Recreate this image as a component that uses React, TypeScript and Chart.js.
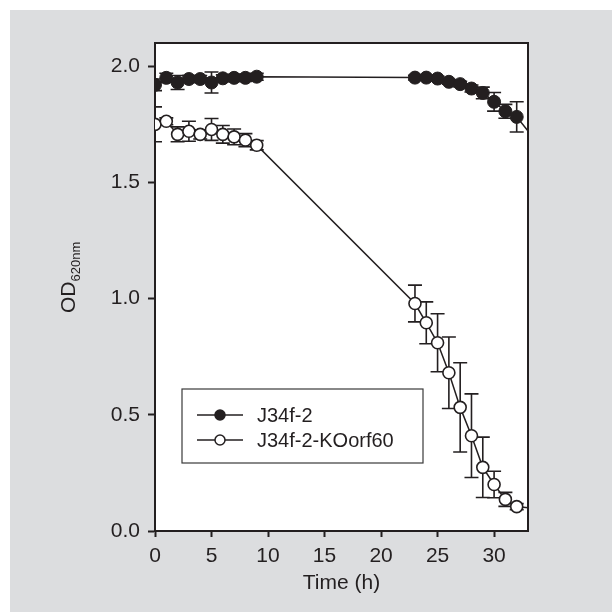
import React, { useEffect, useRef } from "react";
import { Chart, registerables } from "chart.js";

Chart.register(...registerables);

// ---- data ----
const hours = [0, 1, 2, 3, 4, 5, 6, 7, 8, 9, 23, 24, 25, 26, 27, 28, 29, 30, 31, 32, 34];
const odWild = [1.92, 1.95, 1.93, 1.945, 1.945, 1.93, 1.948, 1.95, 1.95, 1.955, 1.951, 1.951, 1.947, 1.933, 1.923, 1.904, 1.885, 1.847, 1.806, 1.782, 1.66];
const errWild = [0.025, 0.02, 0.03, 0.015, 0.015, 0.045, 0.015, 0.015, 0.015, 0.015, 0.01, 0.01, 0.01, 0.01, 0.012, 0.015, 0.025, 0.04, 0.03, 0.065, 0];
const odKO = [1.75, 1.763, 1.707, 1.72, 1.707, 1.728, 1.707, 1.696, 1.682, 1.66, 0.979, 0.896, 0.81, 0.681, 0.532, 0.41, 0.274, 0.2, 0.136, 0.105, 0.095];
const errKO = [0.075, 0.015, 0.032, 0.043, 0.02, 0.047, 0.038, 0.034, 0.028, 0.02, 0.079, 0.09, 0.125, 0.154, 0.192, 0.18, 0.13, 0.057, 0.03, 0.013, 0];
const seriesLabels = ["J34f-2", "J34f-2-KOorf60"];
const xTicks = [0, 5, 10, 15, 20, 25, 30];
const yTicks = [0, 0.5, 1.0, 1.5, 2.0];
const xTitle = "Time (h)";
const yTitleMain = "OD";
const yTitleSub = "620nm";

const INK = "#231f20";
const GRAY = "rgb(220,221,223)";
const FAMILY = "'Liberation Sans', Arial, Helvetica, sans-serif";

const backgroundPlugin = {
  id: "bg",
  beforeDraw(chart: any) {
    const { ctx, width, height, chartArea } = chart;
    ctx.save();
    ctx.fillStyle = "#ffffff";
    ctx.fillRect(0, 0, width, height);
    ctx.fillStyle = GRAY;
    ctx.fillRect(10, 10, width - 14, height - 10);
    ctx.fillStyle = "#ffffff";
    ctx.fillRect(chartArea.left, chartArea.top, chartArea.right - chartArea.left, chartArea.bottom - chartArea.top);
    ctx.restore();
  },
};

const errorBarPlugin = {
  id: "errbars",
  beforeDatasetsDraw(chart: any) {
    const { ctx, chartArea } = chart;
    const yScale = chart.scales.y;
    ctx.save();
    ctx.beginPath();
    ctx.rect(chartArea.left, chartArea.top, chartArea.right - chartArea.left, chartArea.bottom - chartArea.top);
    ctx.clip();
    ctx.strokeStyle = INK;
    ctx.lineWidth = 1.6;
    chart.data.datasets.forEach((ds: any, di: number) => {
      const meta = chart.getDatasetMeta(di);
      meta.data.forEach((el: any, i: number) => {
        const e = ds.errors[i];
        if (!e) return;
        const v = ds.data[i].y;
        const yTop = yScale.getPixelForValue(v + e);
        const yBot = yScale.getPixelForValue(v - e);
        const cap = 7;
        ctx.beginPath();
        ctx.moveTo(el.x, yTop);
        ctx.lineTo(el.x, yBot);
        ctx.moveTo(el.x - cap, yTop);
        ctx.lineTo(el.x + cap, yTop);
        ctx.moveTo(el.x - cap, yBot);
        ctx.lineTo(el.x + cap, yBot);
        ctx.stroke();
      });
    });
    ctx.restore();
  },
};

const framePlugin = {
  id: "frame",
  afterDraw(chart: any) {
    const { ctx, chartArea } = chart;
    ctx.save();
    ctx.strokeStyle = INK;
    ctx.lineWidth = 2;
    ctx.beginPath();
    ctx.moveTo(chartArea.left, chartArea.top);
    ctx.lineTo(chartArea.right, chartArea.top);
    ctx.lineTo(chartArea.right, chartArea.bottom);
    ctx.stroke();

    // legend box
    const bx = chartArea.left + 27;
    const by = chartArea.top + 346;
    const bw = 241;
    const bh = 74;
    ctx.lineWidth = 1.2;
    ctx.strokeStyle = "#3a3a3a";
    ctx.strokeRect(bx, by, bw, bh);
    chart.data.datasets.forEach((ds: any, i: number) => {
      const cy = by + 26 + i * 25;
      ctx.strokeStyle = INK;
      ctx.lineWidth = 1.5;
      ctx.beginPath();
      ctx.moveTo(bx + 15, cy);
      ctx.lineTo(bx + 61, cy);
      ctx.stroke();
      ctx.beginPath();
      ctx.arc(bx + 38, cy, 5, 0, Math.PI * 2);
      ctx.fillStyle = ds.pointBackgroundColor;
      ctx.fill();
      ctx.stroke();
      ctx.fillStyle = INK;
      ctx.font = `20px ${FAMILY}`;
      ctx.textBaseline = "middle";
      ctx.textAlign = "left";
      ctx.fillText(ds.label, bx + 75, cy + 1);
    });

    // y axis title with subscript
    ctx.save();
    ctx.translate(chartArea.left - 80, chartArea.top + 270);
    ctx.rotate(-Math.PI / 2);
    ctx.fillStyle = INK;
    ctx.textBaseline = "alphabetic";
    ctx.textAlign = "left";
    ctx.font = `21px ${FAMILY}`;
    ctx.fillText(yTitleMain, 0, 0);
    const w = ctx.measureText(yTitleMain).width;
    ctx.font = `13px ${FAMILY}`;
    ctx.fillText(yTitleSub, w, 5);
    ctx.restore();

    ctx.restore();
  },
};

export default function App() {
  const canvasRef = useRef<HTMLCanvasElement | null>(null);

  useEffect(() => {
    const canvas = canvasRef.current;
    if (!canvas) return;
    const chart = new Chart(canvas, {
      type: "line",
      data: {
        datasets: [
          {
            label: seriesLabels[0],
            data: hours.map((h, i) => ({ x: h, y: odWild[i] })),
            errors: errWild,
            borderColor: INK,
            backgroundColor: INK,
            pointBackgroundColor: INK,
            pointBorderColor: INK,
            pointRadius: 6.5,
            pointBorderWidth: 1,
            borderWidth: 1.5,
            tension: 0,
          } as any,
          {
            label: seriesLabels[1],
            data: hours.map((h, i) => ({ x: h, y: odKO[i] })),
            errors: errKO,
            borderColor: INK,
            backgroundColor: "#ffffff",
            pointBackgroundColor: "#ffffff",
            pointBorderColor: INK,
            pointRadius: 6,
            pointBorderWidth: 1.6,
            borderWidth: 1.5,
            tension: 0,
          } as any,
        ],
      },
      options: {
        animation: false,
        responsive: false,
        devicePixelRatio: 1,
        events: [],
        layout: { padding: { left: 0, top: 43, right: 88, bottom: 0 } },
        plugins: { legend: { display: false }, tooltip: { enabled: false } },
        scales: {
          x: {
            type: "linear",
            min: 0,
            max: 33,
            afterBuildTicks: (s: any) => {
              s.ticks = xTicks.map((v) => ({ value: v }));
            },
            afterFit: (s: any) => {
              s.height = 81;
            },
            grid: { display: true, drawOnChartArea: false, drawTicks: true, tickLength: 6, tickWidth: 2, tickColor: INK },
            border: { display: true, color: INK, width: 2 },
            ticks: { color: INK, font: { size: 21, family: FAMILY }, padding: 7, maxRotation: 0, autoSkip: false },
            title: { display: true, text: xTitle, color: INK, font: { size: 21, family: FAMILY }, padding: { top: 0, bottom: 16 } },
          },
          y: {
            type: "linear",
            min: 0,
            max: 2.1,
            afterBuildTicks: (s: any) => {
              s.ticks = yTicks.map((v) => ({ value: v }));
            },
            afterFit: (s: any) => {
              s.width = 155;
            },
            grid: { display: true, drawOnChartArea: false, drawTicks: true, tickLength: 7, tickWidth: 2, tickColor: INK },
            border: { display: true, color: INK, width: 2 },
            ticks: {
              color: INK,
              font: { size: 21, family: FAMILY },
              padding: 8,
              autoSkip: false,
              callback: (v: any) => Number(v).toFixed(1),
            },
          },
        },
      } as any,
      plugins: [backgroundPlugin, errorBarPlugin, framePlugin],
    });
    return () => chart.destroy();
  }, []);

  return (
    <div style={{ position: "absolute", left: 0, top: 0, width: 616, height: 612 }}>
      <canvas ref={canvasRef} width={616} height={612} style={{ display: "block", width: 616, height: 612 }} />
    </div>
  );
}
